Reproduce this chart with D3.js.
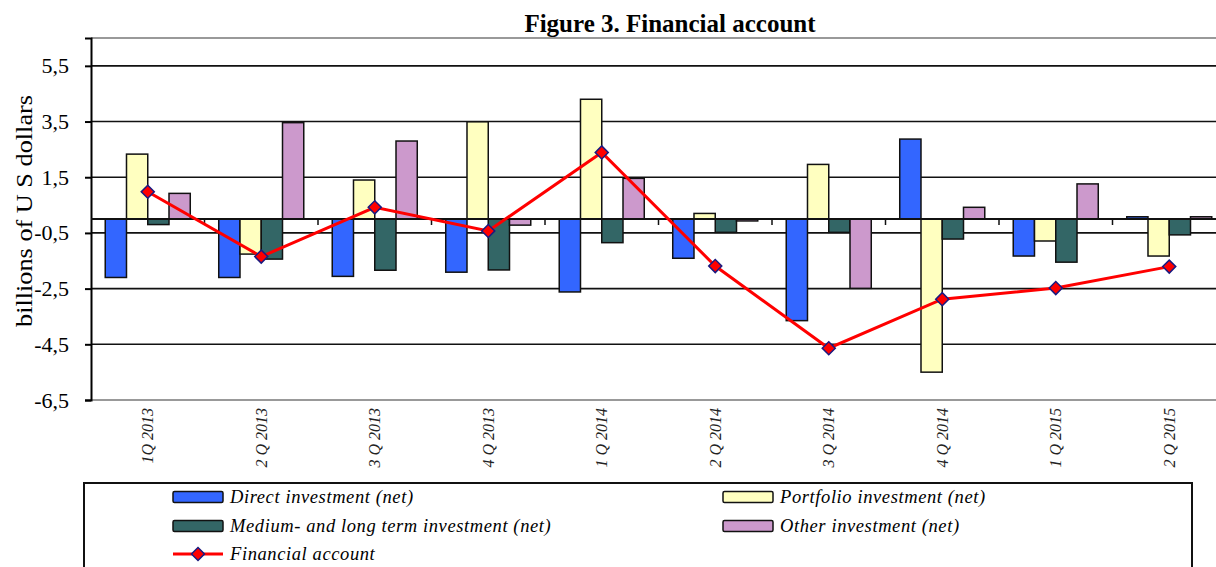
<!DOCTYPE html>
<html>
<head>
<meta charset="utf-8">
<script src="https://cdn.jsdelivr.net/npm/d3@7"></script>
<style>
  body { margin: 0; background: #fff; }
  svg { display: block; }
  svg text { font-family: "Liberation Serif", "Times New Roman", serif; }
</style>
</head>
<body>
<svg id="chart" width="1216" height="567"></svg>
<script>
// quarters on the x axis
const categories = ["1Q 2013", "2 Q 2013", "3 Q 2013", "4 Q 2013", "1 Q 2014",
  "2 Q 2014", "3 Q 2014", "4 Q 2014", "1 Q 2015", "2 Q 2015"];

// bars, billions of US dollars
const direct = [-2.1, -2.1, -2.06, -1.91, -2.62, -1.41, -3.65, 2.87, -1.33, 0.08];
const portfolio = [2.33, -1.26, 1.4, 3.49, 4.3, 0.2, 1.96, -5.5, -0.79, -1.33];
const mediumLong = [-0.2, -1.44, -1.84, -1.83, -0.85, -0.48, -0.48, -0.72, -1.55, -0.57];
const other = [0.92, 3.46, 2.8, -0.22, 1.46, -0.07, -2.49, 0.42, 1.26, 0.08];

// line
const financial = [0.98, -1.35, 0.42, -0.43, 2.39, -1.69, -4.64, -2.88, -2.48, -1.71];

const yTicks = [5.5, 3.5, 1.5, -0.5, -2.5, -4.5, -6.5];

const seriesNames = ["Direct investment (net)", "Portfolio investment (net)",
  "Medium- and long term investment (net)", "Other investment (net)"];
const seriesVals = [direct, portfolio, mediumLong, other];
const colors = ["#3366ff", "#ffffc0", "#336666", "#cc99cc"];

const margin = {top: 38, left: 91, bottom: 400, right: 1226};

const svg = d3.select("#chart");

const x0 = d3.scaleBand()
  .domain(categories)
  .range([margin.left, margin.right]);

const x1 = d3.scaleBand()
  .domain(d3.range(seriesVals.length))
  .range([0, x0.bandwidth()])
  .paddingOuter(0.67);

const y = d3.scaleLinear()
  .domain([-6.5, 6.5])
  .range([margin.bottom, margin.top]);

const fmt = v => String(v).replace(".", ",");

// title
svg.append("text")
  .attr("x", 670).attr("y", 32)
  .attr("text-anchor", "middle")
  .attr("font-weight", "bold")
  .attr("font-size", 25)
  .text("Figure 3. Financial  account");

// plot border (top / bottom are grey)
svg.append("line")
  .attr("x1", margin.left).attr("x2", 1216)
  .attr("y1", y(6.5)).attr("y2", y(6.5))
  .attr("stroke", "#999").attr("stroke-width", 2);

// gridlines
svg.append("g")
  .selectAll("line")
  .data(yTicks.slice(0, -1))
  .join("line")
  .attr("x1", margin.left).attr("x2", 1216)
  .attr("y1", d => y(d)).attr("y2", d => y(d))
  .attr("stroke", "#111").attr("stroke-width", 1.6);

svg.append("line")
  .attr("x1", margin.left).attr("x2", 1216)
  .attr("y1", y(-6.5)).attr("y2", y(-6.5))
  .attr("stroke", "#999").attr("stroke-width", 2);

// y axis
const yAxis = svg.append("g")
  .attr("transform", `translate(${margin.left},0)`)
  .call(d3.axisLeft(y).tickValues(yTicks).tickFormat(fmt).tickSize(6).tickPadding(16));
yAxis.attr("font-family", null);
yAxis.select(".domain").attr("stroke", "#000").attr("stroke-width", 2);
yAxis.selectAll(".tick line").attr("stroke", "#000").attr("stroke-width", 2);
yAxis.selectAll(".tick text")
  .attr("font-size", 22)
  .attr("fill", "#000");

// y label
svg.append("text")
  .attr("transform", "translate(32,211) rotate(-90)")
  .attr("text-anchor", "middle")
  .attr("font-size", 23)
  .attr("textLength", 232)
  .attr("lengthAdjust", "spacingAndGlyphs")
  .text("billions of U S dollars");

// bars
const groups = svg.append("g")
  .selectAll("g")
  .data(categories)
  .join("g")
  .attr("transform", d => `translate(${x0(d)},0)`);

groups.selectAll("rect")
  .data((c, i) => seriesVals.map((s, k) => ({k, v: s[i]})))
  .join("rect")
  .attr("x", d => x1(d.k))
  .attr("width", x1.bandwidth())
  .attr("y", d => y(Math.max(0, d.v)))
  .attr("height", d => Math.abs(y(d.v) - y(0)))
  .attr("fill", d => colors[d.k])
  .attr("stroke", "#111")
  .attr("stroke-width", 1.5);

// zero line with category ticks
svg.append("line")
  .attr("x1", margin.left).attr("x2", 1216)
  .attr("y1", y(0)).attr("y2", y(0))
  .attr("stroke", "#111").attr("stroke-width", 2);

svg.append("g")
  .selectAll("line")
  .data(categories.slice(1))
  .join("line")
  .attr("x1", d => x0(d)).attr("x2", d => x0(d))
  .attr("y1", y(0)).attr("y2", y(0) + 6)
  .attr("stroke", "#111").attr("stroke-width", 1.5);

// x labels
svg.append("g")
  .selectAll("text")
  .data(categories)
  .join("text")
  .attr("transform", d => `translate(${x0(d) + x0.bandwidth() / 2},408) rotate(-90)`)
  .attr("text-anchor", "end")
  .attr("dy", "0.35em")
  .attr("font-style", "italic")
  .attr("font-size", 16)
  .attr("fill", "#222")
  .text(d => d);

// financial account line
const cx = (d, i) => x0(categories[i]) + x0.bandwidth() / 2;
const diamond = d3.symbol().type(d3.symbolSquare).size(85);

svg.append("path")
  .datum(financial)
  .attr("fill", "none")
  .attr("stroke", "#ff0000")
  .attr("stroke-width", 3)
  .attr("d", d3.line().x(cx).y(d => y(d)));

svg.append("g")
  .selectAll("path")
  .data(financial)
  .join("path")
  .attr("transform", (d, i) => `translate(${cx(d, i)},${y(d)}) rotate(45)`)
  .attr("d", diamond)
  .attr("fill", "#ff0000")
  .attr("stroke", "#1a1a80")
  .attr("stroke-width", 1.5);

// legend
const legend = svg.append("g");
legend.append("rect")
  .attr("x", 84).attr("y", 483)
  .attr("width", 1108).attr("height", 90)
  .attr("fill", "#fff")
  .attr("stroke", "#111").attr("stroke-width", 2);

const legendPos = [
  {x: 173, y: 497}, {x: 723, y: 497},
  {x: 173, y: 526}, {x: 723, y: 526}
];

seriesNames.forEach((name, k) => {
  const p = legendPos[k];
  legend.append("rect")
    .attr("x", p.x).attr("y", p.y - 5.5)
    .attr("width", 50).attr("height", 11)
    .attr("rx", 1.5)
    .attr("fill", colors[k])
    .attr("stroke", "#111").attr("stroke-width", 1.5);
  legend.append("text")
    .attr("x", p.x + 57).attr("y", p.y)
    .attr("dy", "0.35em")
    .attr("font-style", "italic")
    .attr("font-size", 18.5)
    .attr("letter-spacing", 0.6)
    .text(name);
});

legend.append("line")
  .attr("x1", 173).attr("x2", 223)
  .attr("y1", 554).attr("y2", 554)
  .attr("stroke", "#ff0000").attr("stroke-width", 3);
legend.append("path")
  .attr("transform", "translate(198,554) rotate(45)")
  .attr("d", diamond)
  .attr("fill", "#ff0000")
  .attr("stroke", "#1a1a80")
  .attr("stroke-width", 1.5);
legend.append("text")
  .attr("x", 230).attr("y", 554)
  .attr("dy", "0.35em")
  .attr("font-style", "italic")
  .attr("font-size", 18.5)
  .attr("letter-spacing", 0.6)
  .text("Financial account");
</script>
</body>
</html>
